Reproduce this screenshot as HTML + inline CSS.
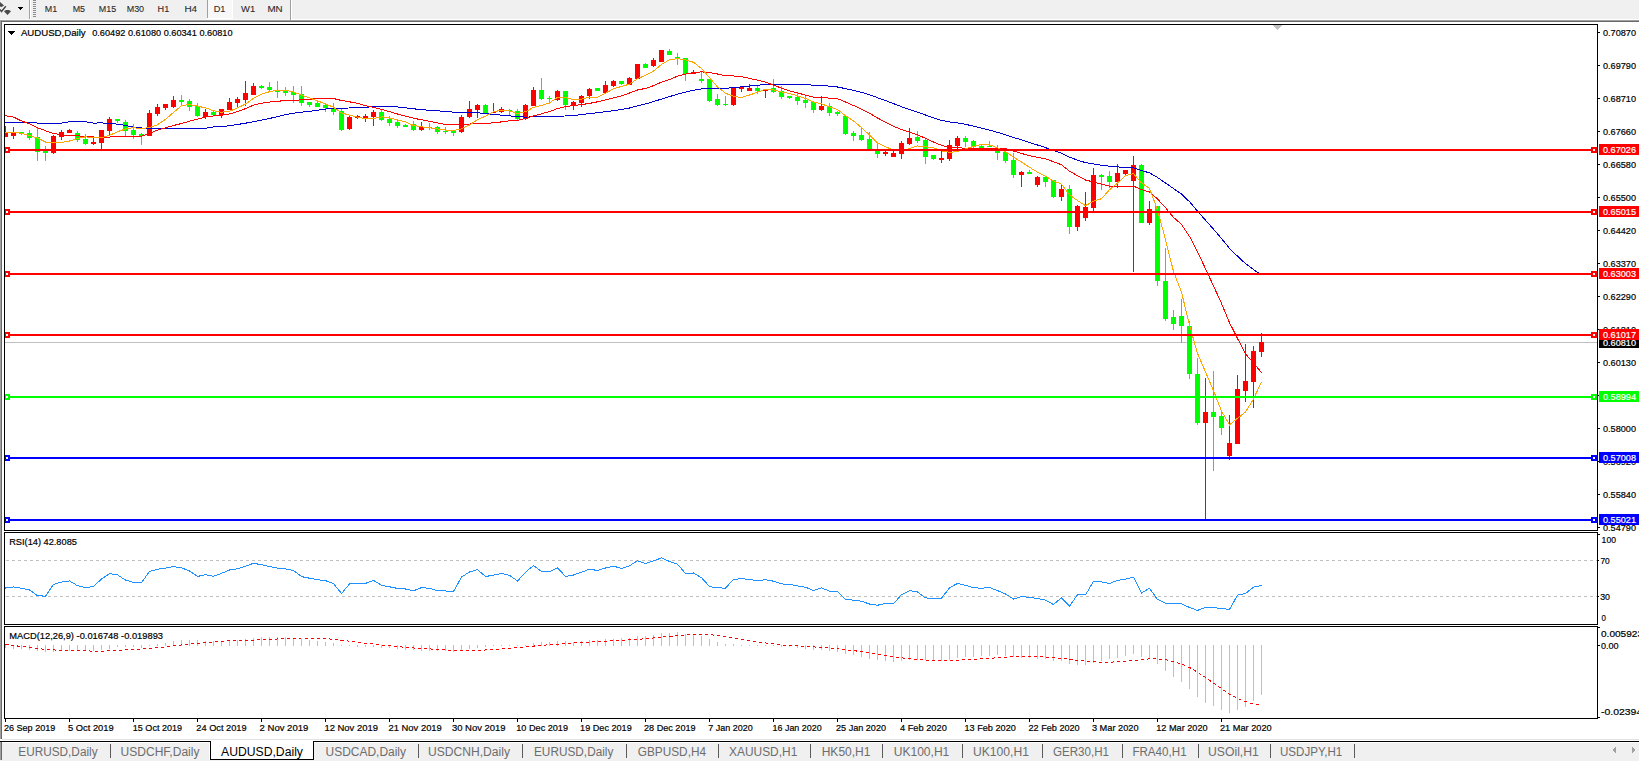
<!DOCTYPE html>
<html><head><meta charset="utf-8"><title>AUDUSD,Daily</title>
<style>html,body{margin:0;padding:0;width:1639px;height:763px;overflow:hidden;background:#fff;font-family:"Liberation Sans", sans-serif;}
svg{display:block;} text{font-family:"Liberation Sans", sans-serif;}</style></head>
<body><svg width="1639" height="763" viewBox="0 0 1639 763" shape-rendering="crispEdges" font-family='"Liberation Sans", sans-serif'>
<defs>
<clipPath id="cm"><rect x="5" y="25" width="1592" height="505"/></clipPath>
<clipPath id="cr"><rect x="5" y="533" width="1592" height="91"/></clipPath>
<clipPath id="cd"><rect x="5" y="627" width="1592" height="91"/></clipPath>
</defs>
<rect x="0" y="0" width="1639" height="763" fill="#ffffff"/>
<rect x="0" y="0" width="1639" height="19" fill="#f0f0f0"/>
<rect x="0" y="19" width="290" height="1" fill="#f8f8f8"/>
<rect x="0" y="20" width="1639" height="1" fill="#a0a0a0"/>
<rect x="0" y="21" width="1639" height="1" fill="#696969"/>
<rect x="0" y="20" width="1" height="719" fill="#a0a0a0"/>
<rect x="1" y="21" width="1" height="718" fill="#696969"/>
<path d="M0 2 L4 5.5 L1.5 7 L0 6.5 Z" fill="#4a4a4a" shape-rendering="auto"/>
<path d="M0 9.5 L1.5 11.5 L5.8 6.2" stroke="#4a4a4a" stroke-width="1.5" fill="none" shape-rendering="auto"/>
<path d="M4 11.3 L6 10 L9 10 L11 11.3 L7.5 15 Z" fill="#4a4a4a" shape-rendering="auto"/>
<path d="M18 7 L23 7 L20.5 10 Z" fill="#000"/>
<rect x="29" y="0" width="1" height="19" fill="#a0a0a0"/>
<rect x="30" y="0" width="1" height="19" fill="#ffffff"/>
<rect x="33" y="0" width="3" height="1" fill="#8c8c8c"/>
<rect x="33" y="2" width="3" height="1" fill="#8c8c8c"/>
<rect x="33" y="4" width="3" height="1" fill="#8c8c8c"/>
<rect x="33" y="6" width="3" height="1" fill="#8c8c8c"/>
<rect x="33" y="8" width="3" height="1" fill="#8c8c8c"/>
<rect x="33" y="10" width="3" height="1" fill="#8c8c8c"/>
<rect x="33" y="12" width="3" height="1" fill="#8c8c8c"/>
<rect x="33" y="14" width="3" height="1" fill="#8c8c8c"/>
<rect x="33" y="16" width="3" height="1" fill="#8c8c8c"/>
<rect x="207" y="0" width="1" height="18" fill="#a0a0a0"/>
<rect x="208" y="0" width="24" height="18" fill="#f8f8f8"/>
<rect x="232" y="0" width="1" height="19" fill="#ffffff"/>
<rect x="207" y="18" width="26" height="1" fill="#ffffff"/>
<rect x="290" y="0" width="1" height="20" fill="#a0a0a0"/>
<rect x="291" y="0" width="1" height="19" fill="#ffffff"/>
<text x="44.8" y="12" font-size="9.5" fill="#2a2a2a" text-anchor="start" textLength="12.40" lengthAdjust="spacingAndGlyphs" stroke="#2a2a2a" stroke-width="0.1">M1</text>
<text x="72.7" y="12" font-size="9.5" fill="#2a2a2a" text-anchor="start" textLength="12.40" lengthAdjust="spacingAndGlyphs" stroke="#2a2a2a" stroke-width="0.1">M5</text>
<text x="98.8" y="12" font-size="9.5" fill="#2a2a2a" text-anchor="start" textLength="17.38" lengthAdjust="spacingAndGlyphs" stroke="#2a2a2a" stroke-width="0.1">M15</text>
<text x="126.7" y="12" font-size="9.5" fill="#2a2a2a" text-anchor="start" textLength="17.38" lengthAdjust="spacingAndGlyphs" stroke="#2a2a2a" stroke-width="0.1">M30</text>
<text x="157.6" y="12" font-size="9.5" fill="#2a2a2a" text-anchor="start" textLength="11.69" lengthAdjust="spacingAndGlyphs" stroke="#2a2a2a" stroke-width="0.1">H1</text>
<text x="184.4" y="12" font-size="9.5" fill="#2a2a2a" text-anchor="start" textLength="12.69" lengthAdjust="spacingAndGlyphs" stroke="#2a2a2a" stroke-width="0.1">H4</text>
<text x="213.7" y="12" font-size="9.5" fill="#2a2a2a" text-anchor="start" textLength="11.69" lengthAdjust="spacingAndGlyphs" stroke="#2a2a2a" stroke-width="0.1">D1</text>
<text x="241.1" y="12" font-size="9.5" fill="#2a2a2a" text-anchor="start" textLength="14.10" lengthAdjust="spacingAndGlyphs" stroke="#2a2a2a" stroke-width="0.1">W1</text>
<text x="267.4" y="12" font-size="9.5" fill="#2a2a2a" text-anchor="start" textLength="15.22" lengthAdjust="spacingAndGlyphs" stroke="#2a2a2a" stroke-width="0.1">MN</text>
<rect x="4" y="24" width="1594" height="1" fill="#000"/>
<rect x="4" y="530" width="1594" height="1" fill="#000"/>
<rect x="4" y="24" width="1" height="507" fill="#000"/>
<rect x="1597" y="24" width="1" height="507" fill="#000"/>
<rect x="4" y="532" width="1594" height="1" fill="#000"/>
<rect x="4" y="624" width="1594" height="1" fill="#000"/>
<rect x="4" y="532" width="1" height="93" fill="#000"/>
<rect x="1597" y="532" width="1" height="93" fill="#000"/>
<rect x="4" y="626" width="1594" height="1" fill="#000"/>
<rect x="4" y="718" width="1594" height="1" fill="#000"/>
<rect x="4" y="626" width="1" height="93" fill="#000"/>
<rect x="1597" y="626" width="1" height="93" fill="#000"/>
<path d="M1273 25 L1282 25 L1277.5 30 Z" fill="#c0c0c0"/>
<g clip-path="url(#cm)">
<rect x="5" y="342" width="1592" height="1" fill="#c0c0c0"/>
<rect x="5" y="126" width="1" height="11" fill="#ff0000"/>
<rect x="3" y="133" width="5" height="4" fill="#ff0000"/>
<rect x="13" y="127" width="1" height="12" fill="#ff0000"/>
<rect x="11" y="132" width="5" height="4" fill="#ff0000"/>
<rect x="21" y="132" width="1" height="3" fill="#00ff00"/>
<rect x="19" y="132" width="5" height="2" fill="#00ff00"/>
<rect x="29" y="130" width="1" height="10" fill="#00ff00"/>
<rect x="27" y="133" width="5" height="5" fill="#00ff00"/>
<rect x="37" y="128" width="1" height="33" fill="#00ff00"/>
<rect x="35" y="137" width="5" height="15" fill="#00ff00"/>
<rect x="45" y="146" width="1" height="15" fill="#00ff00"/>
<rect x="43" y="151" width="5" height="2" fill="#00ff00"/>
<rect x="53" y="135" width="1" height="19" fill="#ff0000"/>
<rect x="51" y="136" width="5" height="17" fill="#ff0000"/>
<rect x="61" y="130" width="1" height="10" fill="#ff0000"/>
<rect x="59" y="132" width="5" height="5" fill="#ff0000"/>
<rect x="69" y="129" width="1" height="4" fill="#ff0000"/>
<rect x="67" y="130" width="5" height="3" fill="#ff0000"/>
<rect x="77" y="131" width="1" height="11" fill="#00ff00"/>
<rect x="75" y="133" width="5" height="7" fill="#00ff00"/>
<rect x="85" y="134" width="1" height="11" fill="#00ff00"/>
<rect x="83" y="139" width="5" height="5" fill="#00ff00"/>
<rect x="93" y="136" width="1" height="9" fill="#ff0000"/>
<rect x="91" y="142" width="5" height="2" fill="#ff0000"/>
<rect x="101" y="130" width="1" height="19" fill="#ff0000"/>
<rect x="99" y="130" width="5" height="13" fill="#ff0000"/>
<rect x="109" y="117" width="1" height="18" fill="#ff0000"/>
<rect x="107" y="119" width="5" height="12" fill="#ff0000"/>
<rect x="117" y="119" width="1" height="4" fill="#00ff00"/>
<rect x="115" y="119" width="5" height="2" fill="#00ff00"/>
<rect x="125" y="120" width="1" height="17" fill="#00ff00"/>
<rect x="123" y="122" width="5" height="9" fill="#00ff00"/>
<rect x="133" y="124" width="1" height="15" fill="#00ff00"/>
<rect x="131" y="130" width="5" height="5" fill="#00ff00"/>
<rect x="141" y="133" width="1" height="12" fill="#00ff00"/>
<rect x="139" y="134" width="5" height="2" fill="#00ff00"/>
<rect x="149" y="110" width="1" height="26" fill="#ff0000"/>
<rect x="147" y="113" width="5" height="23" fill="#ff0000"/>
<rect x="157" y="104" width="1" height="12" fill="#ff0000"/>
<rect x="155" y="107" width="5" height="7" fill="#ff0000"/>
<rect x="165" y="104" width="1" height="6" fill="#ff0000"/>
<rect x="163" y="104" width="5" height="4" fill="#ff0000"/>
<rect x="173" y="96" width="1" height="12" fill="#ff0000"/>
<rect x="171" y="100" width="5" height="7" fill="#ff0000"/>
<rect x="181" y="95" width="1" height="10" fill="#00ff00"/>
<rect x="179" y="100" width="5" height="2" fill="#00ff00"/>
<rect x="189" y="99" width="1" height="12" fill="#00ff00"/>
<rect x="187" y="101" width="5" height="6" fill="#00ff00"/>
<rect x="197" y="103" width="1" height="14" fill="#00ff00"/>
<rect x="195" y="106" width="5" height="10" fill="#00ff00"/>
<rect x="205" y="109" width="1" height="10" fill="#ff0000"/>
<rect x="203" y="112" width="5" height="5" fill="#ff0000"/>
<rect x="213" y="111" width="1" height="4" fill="#00ff00"/>
<rect x="211" y="112" width="5" height="3" fill="#00ff00"/>
<rect x="221" y="109" width="1" height="9" fill="#ff0000"/>
<rect x="219" y="109" width="5" height="6" fill="#ff0000"/>
<rect x="229" y="98" width="1" height="12" fill="#ff0000"/>
<rect x="227" y="102" width="5" height="8" fill="#ff0000"/>
<rect x="237" y="97" width="1" height="10" fill="#ff0000"/>
<rect x="235" y="99" width="5" height="4" fill="#ff0000"/>
<rect x="245" y="81" width="1" height="25" fill="#ff0000"/>
<rect x="243" y="93" width="5" height="7" fill="#ff0000"/>
<rect x="253" y="83" width="1" height="12" fill="#ff0000"/>
<rect x="251" y="86" width="5" height="9" fill="#ff0000"/>
<rect x="261" y="85" width="1" height="4" fill="#00ff00"/>
<rect x="259" y="86" width="5" height="2" fill="#00ff00"/>
<rect x="269" y="82" width="1" height="9" fill="#00ff00"/>
<rect x="267" y="87" width="5" height="3" fill="#00ff00"/>
<rect x="277" y="81" width="1" height="17" fill="#00ff00"/>
<rect x="275" y="90" width="5" height="2" fill="#00ff00"/>
<rect x="285" y="87" width="1" height="9" fill="#00ff00"/>
<rect x="283" y="91" width="5" height="2" fill="#00ff00"/>
<rect x="293" y="86" width="1" height="17" fill="#00ff00"/>
<rect x="291" y="92" width="5" height="3" fill="#00ff00"/>
<rect x="301" y="86" width="1" height="20" fill="#00ff00"/>
<rect x="299" y="94" width="5" height="9" fill="#00ff00"/>
<rect x="309" y="102" width="1" height="5" fill="#00ff00"/>
<rect x="307" y="102" width="5" height="3" fill="#00ff00"/>
<rect x="317" y="101" width="1" height="6" fill="#00ff00"/>
<rect x="315" y="103" width="5" height="4" fill="#00ff00"/>
<rect x="325" y="104" width="1" height="8" fill="#00ff00"/>
<rect x="323" y="105" width="5" height="3" fill="#00ff00"/>
<rect x="333" y="103" width="1" height="12" fill="#00ff00"/>
<rect x="331" y="108" width="5" height="4" fill="#00ff00"/>
<rect x="341" y="108" width="1" height="23" fill="#00ff00"/>
<rect x="339" y="111" width="5" height="19" fill="#00ff00"/>
<rect x="349" y="116" width="1" height="14" fill="#ff0000"/>
<rect x="347" y="117" width="5" height="12" fill="#ff0000"/>
<rect x="357" y="115" width="1" height="4" fill="#ff0000"/>
<rect x="355" y="116" width="5" height="2" fill="#ff0000"/>
<rect x="365" y="114" width="1" height="8" fill="#ff0000"/>
<rect x="363" y="116" width="5" height="2" fill="#ff0000"/>
<rect x="373" y="110" width="1" height="16" fill="#ff0000"/>
<rect x="371" y="112" width="5" height="5" fill="#ff0000"/>
<rect x="381" y="110" width="1" height="11" fill="#00ff00"/>
<rect x="379" y="112" width="5" height="8" fill="#00ff00"/>
<rect x="389" y="116" width="1" height="10" fill="#00ff00"/>
<rect x="387" y="119" width="5" height="4" fill="#00ff00"/>
<rect x="397" y="120" width="1" height="8" fill="#00ff00"/>
<rect x="395" y="122" width="5" height="4" fill="#00ff00"/>
<rect x="405" y="124" width="1" height="3" fill="#00ff00"/>
<rect x="403" y="125" width="5" height="2" fill="#00ff00"/>
<rect x="413" y="121" width="1" height="10" fill="#00ff00"/>
<rect x="411" y="124" width="5" height="6" fill="#00ff00"/>
<rect x="421" y="122" width="1" height="9" fill="#ff0000"/>
<rect x="419" y="127" width="5" height="3" fill="#ff0000"/>
<rect x="429" y="123" width="1" height="7" fill="#00ff00"/>
<rect x="427" y="127" width="5" height="1" fill="#00ff00"/>
<rect x="437" y="126" width="1" height="8" fill="#00ff00"/>
<rect x="435" y="127" width="5" height="5" fill="#00ff00"/>
<rect x="445" y="127" width="1" height="7" fill="#00ff00"/>
<rect x="443" y="131" width="5" height="1" fill="#00ff00"/>
<rect x="453" y="131" width="1" height="5" fill="#00ff00"/>
<rect x="451" y="131" width="5" height="2" fill="#00ff00"/>
<rect x="461" y="115" width="1" height="18" fill="#ff0000"/>
<rect x="459" y="117" width="5" height="15" fill="#ff0000"/>
<rect x="469" y="101" width="1" height="17" fill="#ff0000"/>
<rect x="467" y="109" width="5" height="8" fill="#ff0000"/>
<rect x="477" y="104" width="1" height="14" fill="#ff0000"/>
<rect x="475" y="105" width="5" height="5" fill="#ff0000"/>
<rect x="485" y="104" width="1" height="10" fill="#00ff00"/>
<rect x="483" y="105" width="5" height="9" fill="#00ff00"/>
<rect x="493" y="103" width="1" height="10" fill="#ff0000"/>
<rect x="491" y="112" width="5" height="1" fill="#ff0000"/>
<rect x="501" y="107" width="1" height="6" fill="#ff0000"/>
<rect x="499" y="109" width="5" height="3" fill="#ff0000"/>
<rect x="509" y="109" width="1" height="6" fill="#00ff00"/>
<rect x="507" y="110" width="5" height="1" fill="#00ff00"/>
<rect x="517" y="109" width="1" height="12" fill="#00ff00"/>
<rect x="515" y="111" width="5" height="8" fill="#00ff00"/>
<rect x="525" y="104" width="1" height="16" fill="#ff0000"/>
<rect x="523" y="105" width="5" height="14" fill="#ff0000"/>
<rect x="533" y="87" width="1" height="19" fill="#ff0000"/>
<rect x="531" y="90" width="5" height="16" fill="#ff0000"/>
<rect x="541" y="78" width="1" height="22" fill="#00ff00"/>
<rect x="539" y="90" width="5" height="9" fill="#00ff00"/>
<rect x="549" y="96" width="1" height="6" fill="#00ff00"/>
<rect x="547" y="98" width="5" height="1" fill="#00ff00"/>
<rect x="557" y="90" width="1" height="11" fill="#ff0000"/>
<rect x="555" y="91" width="5" height="9" fill="#ff0000"/>
<rect x="565" y="91" width="1" height="19" fill="#00ff00"/>
<rect x="563" y="91" width="5" height="14" fill="#00ff00"/>
<rect x="573" y="101" width="1" height="9" fill="#ff0000"/>
<rect x="571" y="102" width="5" height="3" fill="#ff0000"/>
<rect x="581" y="95" width="1" height="12" fill="#ff0000"/>
<rect x="579" y="96" width="5" height="7" fill="#ff0000"/>
<rect x="589" y="88" width="1" height="11" fill="#ff0000"/>
<rect x="587" y="89" width="5" height="7" fill="#ff0000"/>
<rect x="597" y="88" width="1" height="3" fill="#00ff00"/>
<rect x="595" y="88" width="5" height="3" fill="#00ff00"/>
<rect x="605" y="81" width="1" height="12" fill="#ff0000"/>
<rect x="603" y="85" width="5" height="8" fill="#ff0000"/>
<rect x="613" y="80" width="1" height="7" fill="#ff0000"/>
<rect x="611" y="81" width="5" height="5" fill="#ff0000"/>
<rect x="621" y="81" width="1" height="4" fill="#00ff00"/>
<rect x="619" y="81" width="5" height="3" fill="#00ff00"/>
<rect x="629" y="77" width="1" height="8" fill="#ff0000"/>
<rect x="627" y="78" width="5" height="7" fill="#ff0000"/>
<rect x="637" y="64" width="1" height="15" fill="#ff0000"/>
<rect x="635" y="64" width="5" height="15" fill="#ff0000"/>
<rect x="645" y="63" width="1" height="5" fill="#00ff00"/>
<rect x="643" y="64" width="5" height="4" fill="#00ff00"/>
<rect x="653" y="58" width="1" height="9" fill="#ff0000"/>
<rect x="651" y="60" width="5" height="6" fill="#ff0000"/>
<rect x="661" y="50" width="1" height="12" fill="#ff0000"/>
<rect x="659" y="50" width="5" height="12" fill="#ff0000"/>
<rect x="669" y="49" width="1" height="6" fill="#00ff00"/>
<rect x="667" y="51" width="5" height="4" fill="#00ff00"/>
<rect x="677" y="53" width="1" height="12" fill="#00ff00"/>
<rect x="675" y="57" width="5" height="1" fill="#00ff00"/>
<rect x="685" y="58" width="1" height="23" fill="#00ff00"/>
<rect x="683" y="58" width="5" height="16" fill="#00ff00"/>
<rect x="693" y="70" width="1" height="4" fill="#ff0000"/>
<rect x="691" y="72" width="5" height="2" fill="#ff0000"/>
<rect x="701" y="72" width="1" height="11" fill="#00ff00"/>
<rect x="699" y="79" width="5" height="2" fill="#00ff00"/>
<rect x="709" y="79" width="1" height="23" fill="#00ff00"/>
<rect x="707" y="79" width="5" height="22" fill="#00ff00"/>
<rect x="717" y="94" width="1" height="12" fill="#00ff00"/>
<rect x="715" y="99" width="5" height="6" fill="#00ff00"/>
<rect x="725" y="96" width="1" height="10" fill="#00ff00"/>
<rect x="723" y="104" width="5" height="1" fill="#00ff00"/>
<rect x="733" y="88" width="1" height="18" fill="#ff0000"/>
<rect x="731" y="88" width="5" height="17" fill="#ff0000"/>
<rect x="741" y="87" width="1" height="5" fill="#ff0000"/>
<rect x="739" y="87" width="5" height="2" fill="#ff0000"/>
<rect x="749" y="84" width="1" height="7" fill="#ff0000"/>
<rect x="747" y="88" width="5" height="3" fill="#ff0000"/>
<rect x="757" y="85" width="1" height="9" fill="#00ff00"/>
<rect x="755" y="88" width="5" height="3" fill="#00ff00"/>
<rect x="765" y="89" width="1" height="9" fill="#ff0000"/>
<rect x="763" y="89" width="5" height="2" fill="#ff0000"/>
<rect x="773" y="79" width="1" height="14" fill="#00ff00"/>
<rect x="771" y="88" width="5" height="4" fill="#00ff00"/>
<rect x="781" y="86" width="1" height="13" fill="#00ff00"/>
<rect x="779" y="91" width="5" height="6" fill="#00ff00"/>
<rect x="789" y="96" width="1" height="3" fill="#00ff00"/>
<rect x="787" y="96" width="5" height="2" fill="#00ff00"/>
<rect x="797" y="93" width="1" height="12" fill="#00ff00"/>
<rect x="795" y="97" width="5" height="4" fill="#00ff00"/>
<rect x="805" y="96" width="1" height="12" fill="#00ff00"/>
<rect x="803" y="100" width="5" height="3" fill="#00ff00"/>
<rect x="813" y="102" width="1" height="11" fill="#00ff00"/>
<rect x="811" y="102" width="5" height="8" fill="#00ff00"/>
<rect x="821" y="96" width="1" height="15" fill="#ff0000"/>
<rect x="819" y="106" width="5" height="4" fill="#ff0000"/>
<rect x="829" y="103" width="1" height="13" fill="#00ff00"/>
<rect x="827" y="106" width="5" height="7" fill="#00ff00"/>
<rect x="837" y="111" width="1" height="5" fill="#00ff00"/>
<rect x="835" y="112" width="5" height="2" fill="#00ff00"/>
<rect x="845" y="116" width="1" height="19" fill="#00ff00"/>
<rect x="843" y="116" width="5" height="18" fill="#00ff00"/>
<rect x="853" y="131" width="1" height="10" fill="#00ff00"/>
<rect x="851" y="133" width="5" height="3" fill="#00ff00"/>
<rect x="861" y="128" width="1" height="13" fill="#00ff00"/>
<rect x="859" y="135" width="5" height="5" fill="#00ff00"/>
<rect x="869" y="132" width="1" height="19" fill="#00ff00"/>
<rect x="867" y="139" width="5" height="10" fill="#00ff00"/>
<rect x="877" y="143" width="1" height="15" fill="#00ff00"/>
<rect x="875" y="151" width="5" height="3" fill="#00ff00"/>
<rect x="885" y="151" width="1" height="5" fill="#ff0000"/>
<rect x="883" y="152" width="5" height="2" fill="#ff0000"/>
<rect x="893" y="151" width="1" height="6" fill="#ff0000"/>
<rect x="891" y="153" width="5" height="4" fill="#ff0000"/>
<rect x="901" y="141" width="1" height="18" fill="#ff0000"/>
<rect x="899" y="143" width="5" height="11" fill="#ff0000"/>
<rect x="909" y="128" width="1" height="17" fill="#ff0000"/>
<rect x="907" y="138" width="5" height="6" fill="#ff0000"/>
<rect x="917" y="131" width="1" height="12" fill="#00ff00"/>
<rect x="915" y="137" width="5" height="4" fill="#00ff00"/>
<rect x="925" y="138" width="1" height="26" fill="#00ff00"/>
<rect x="923" y="140" width="5" height="17" fill="#00ff00"/>
<rect x="933" y="155" width="1" height="5" fill="#00ff00"/>
<rect x="931" y="155" width="5" height="4" fill="#00ff00"/>
<rect x="941" y="151" width="1" height="12" fill="#ff0000"/>
<rect x="939" y="158" width="5" height="2" fill="#ff0000"/>
<rect x="949" y="140" width="1" height="21" fill="#ff0000"/>
<rect x="947" y="145" width="5" height="14" fill="#ff0000"/>
<rect x="957" y="136" width="1" height="13" fill="#ff0000"/>
<rect x="955" y="138" width="5" height="8" fill="#ff0000"/>
<rect x="965" y="136" width="1" height="11" fill="#00ff00"/>
<rect x="963" y="138" width="5" height="4" fill="#00ff00"/>
<rect x="973" y="140" width="1" height="8" fill="#00ff00"/>
<rect x="971" y="141" width="5" height="6" fill="#00ff00"/>
<rect x="981" y="145" width="1" height="3" fill="#00ff00"/>
<rect x="979" y="146" width="5" height="2" fill="#00ff00"/>
<rect x="989" y="141" width="1" height="6" fill="#00ff00"/>
<rect x="987" y="146" width="5" height="1" fill="#00ff00"/>
<rect x="997" y="145" width="1" height="15" fill="#00ff00"/>
<rect x="995" y="148" width="5" height="5" fill="#00ff00"/>
<rect x="1005" y="152" width="1" height="11" fill="#00ff00"/>
<rect x="1003" y="152" width="5" height="9" fill="#00ff00"/>
<rect x="1013" y="153" width="1" height="25" fill="#00ff00"/>
<rect x="1011" y="160" width="5" height="15" fill="#00ff00"/>
<rect x="1021" y="171" width="1" height="16" fill="#ff0000"/>
<rect x="1019" y="172" width="5" height="3" fill="#ff0000"/>
<rect x="1029" y="170" width="1" height="4" fill="#00ff00"/>
<rect x="1027" y="172" width="5" height="2" fill="#00ff00"/>
<rect x="1037" y="176" width="1" height="11" fill="#ff0000"/>
<rect x="1035" y="177" width="5" height="8" fill="#ff0000"/>
<rect x="1045" y="176" width="1" height="11" fill="#00ff00"/>
<rect x="1043" y="177" width="5" height="5" fill="#00ff00"/>
<rect x="1053" y="180" width="1" height="18" fill="#00ff00"/>
<rect x="1051" y="180" width="5" height="17" fill="#00ff00"/>
<rect x="1061" y="185" width="1" height="16" fill="#ff0000"/>
<rect x="1059" y="189" width="5" height="8" fill="#ff0000"/>
<rect x="1069" y="185" width="1" height="49" fill="#00ff00"/>
<rect x="1067" y="189" width="5" height="38" fill="#00ff00"/>
<rect x="1077" y="205" width="1" height="26" fill="#ff0000"/>
<rect x="1075" y="206" width="5" height="21" fill="#ff0000"/>
<rect x="1085" y="192" width="1" height="29" fill="#ff0000"/>
<rect x="1083" y="207" width="5" height="11" fill="#ff0000"/>
<rect x="1093" y="168" width="1" height="43" fill="#ff0000"/>
<rect x="1091" y="175" width="5" height="33" fill="#ff0000"/>
<rect x="1101" y="174" width="1" height="16" fill="#00ff00"/>
<rect x="1099" y="175" width="5" height="2" fill="#00ff00"/>
<rect x="1109" y="171" width="1" height="17" fill="#00ff00"/>
<rect x="1107" y="176" width="5" height="6" fill="#00ff00"/>
<rect x="1117" y="164" width="1" height="24" fill="#ff0000"/>
<rect x="1115" y="173" width="5" height="9" fill="#ff0000"/>
<rect x="1125" y="170" width="1" height="5" fill="#ff0000"/>
<rect x="1123" y="170" width="5" height="4" fill="#ff0000"/>
<rect x="1133" y="156" width="1" height="116" fill="#ff0000"/>
<rect x="1131" y="165" width="5" height="16" fill="#ff0000"/>
<rect x="1141" y="164" width="1" height="59" fill="#00ff00"/>
<rect x="1139" y="165" width="5" height="58" fill="#00ff00"/>
<rect x="1149" y="201" width="1" height="24" fill="#ff0000"/>
<rect x="1147" y="209" width="5" height="14" fill="#ff0000"/>
<rect x="1157" y="206" width="1" height="80" fill="#00ff00"/>
<rect x="1155" y="206" width="5" height="75" fill="#00ff00"/>
<rect x="1165" y="248" width="1" height="73" fill="#00ff00"/>
<rect x="1163" y="281" width="5" height="38" fill="#00ff00"/>
<rect x="1173" y="310" width="1" height="20" fill="#00ff00"/>
<rect x="1171" y="317" width="5" height="7" fill="#00ff00"/>
<rect x="1181" y="299" width="1" height="44" fill="#00ff00"/>
<rect x="1179" y="316" width="5" height="10" fill="#00ff00"/>
<rect x="1189" y="321" width="1" height="58" fill="#00ff00"/>
<rect x="1187" y="326" width="5" height="48" fill="#00ff00"/>
<rect x="1197" y="358" width="1" height="67" fill="#00ff00"/>
<rect x="1195" y="374" width="5" height="49" fill="#00ff00"/>
<rect x="1205" y="378" width="1" height="142" fill="#ff0000"/>
<rect x="1203" y="412" width="5" height="11" fill="#ff0000"/>
<rect x="1213" y="371" width="1" height="100" fill="#00ff00"/>
<rect x="1211" y="412" width="5" height="5" fill="#00ff00"/>
<rect x="1221" y="412" width="1" height="23" fill="#00ff00"/>
<rect x="1219" y="416" width="5" height="12" fill="#00ff00"/>
<rect x="1229" y="415" width="1" height="45" fill="#ff0000"/>
<rect x="1227" y="443" width="5" height="13" fill="#ff0000"/>
<rect x="1237" y="375" width="1" height="69" fill="#ff0000"/>
<rect x="1235" y="389" width="5" height="55" fill="#ff0000"/>
<rect x="1245" y="344" width="1" height="58" fill="#ff0000"/>
<rect x="1243" y="381" width="5" height="10" fill="#ff0000"/>
<rect x="1253" y="346" width="1" height="62" fill="#ff0000"/>
<rect x="1251" y="351" width="5" height="31" fill="#ff0000"/>
<rect x="1261" y="333" width="1" height="24" fill="#ff0000"/>
<rect x="1259" y="342" width="5" height="10" fill="#ff0000"/>
<polyline points="-2.5,122.2 5.5,122.2 13.5,122.2 21.5,122.2 29.5,122.2 37.5,123.1 45.5,123.1 53.5,123.1 61.5,123.1 69.5,121.8 77.5,121.8 85.5,121.8 93.5,123.1 101.5,122.9 109.5,123.7 117.5,124.1 125.5,125.5 133.5,127.1 141.5,128.0 149.5,128.0 157.5,128.8 165.5,128.8 173.5,128.8 181.5,128.8 189.5,128.8 197.5,128.7 205.5,128.3 213.5,127.0 221.5,126.6 229.5,125.8 237.5,124.5 245.5,123.2 253.5,121.7 261.5,120.1 269.5,118.5 277.5,116.6 285.5,114.6 293.5,113.2 301.5,112.2 309.5,111.4 317.5,110.3 325.5,109.1 333.5,108.1 341.5,108.1 349.5,108.0 357.5,107.8 365.5,107.4 373.5,106.6 381.5,106.1 389.5,106.4 397.5,107.0 405.5,107.8 413.5,108.8 421.5,109.6 429.5,110.3 437.5,110.8 445.5,111.5 453.5,112.1 461.5,112.4 469.5,112.6 477.5,112.8 485.5,113.5 493.5,114.4 501.5,115.1 509.5,115.8 517.5,116.7 525.5,117.1 533.5,116.9 541.5,116.8 549.5,116.6 557.5,116.1 565.5,116.0 573.5,115.6 581.5,114.5 589.5,113.6 597.5,112.7 605.5,111.7 613.5,110.7 621.5,109.5 629.5,108.0 637.5,105.9 645.5,103.9 653.5,101.6 661.5,99.1 669.5,96.6 677.5,94.2 685.5,92.2 693.5,90.2 701.5,89.0 709.5,88.7 717.5,88.7 725.5,88.4 733.5,87.6 741.5,86.9 749.5,86.1 757.5,85.2 765.5,84.6 773.5,84.7 781.5,84.6 789.5,84.6 797.5,84.9 805.5,84.8 813.5,85.1 821.5,85.4 829.5,86.2 837.5,87.0 845.5,88.6 853.5,90.4 861.5,92.3 869.5,94.7 877.5,97.7 885.5,100.5 893.5,103.6 901.5,106.7 909.5,109.5 917.5,112.2 925.5,115.0 933.5,117.9 941.5,120.4 949.5,121.9 957.5,123.0 965.5,124.3 973.5,126.2 981.5,128.2 989.5,130.2 997.5,132.3 1005.5,134.7 1013.5,137.4 1021.5,139.9 1029.5,142.5 1037.5,145.0 1045.5,147.6 1053.5,150.6 1061.5,153.3 1069.5,157.1 1077.5,160.2 1085.5,162.6 1093.5,163.9 1101.5,165.2 1109.5,166.2 1117.5,166.9 1125.5,167.5 1133.5,167.9 1141.5,170.5 1149.5,172.9 1157.5,177.5 1165.5,183.0 1173.5,188.5 1181.5,194.1 1189.5,201.7 1197.5,211.2 1205.5,220.2 1213.5,229.2 1221.5,238.5 1229.5,248.4 1237.5,256.2 1245.5,263.6 1253.5,269.5 1261.5,275.1" fill="none" stroke="#0000cd" stroke-width="1"/>
<polyline points="-2.5,115.8 5.5,115.8 13.5,117.1 21.5,120.9 29.5,123.9 37.5,127.8 45.5,130.7 53.5,133.7 61.5,134.5 69.5,135.9 77.5,135.9 85.5,136.3 93.5,137.0 101.5,137.8 109.5,137.1 117.5,136.3 125.5,136.2 133.5,136.3 141.5,136.1 149.5,133.4 157.5,130.1 165.5,127.8 173.5,125.5 181.5,123.5 189.5,121.2 197.5,119.2 205.5,117.0 213.5,116.0 221.5,115.2 229.5,113.9 237.5,111.6 245.5,108.6 253.5,105.1 261.5,103.3 269.5,102.1 277.5,101.2 285.5,100.7 293.5,100.2 301.5,99.9 309.5,99.1 317.5,98.8 325.5,98.3 333.5,98.5 341.5,100.5 349.5,101.8 357.5,103.4 365.5,105.6 373.5,107.3 381.5,109.4 389.5,111.6 397.5,114.0 405.5,116.2 413.5,118.2 421.5,119.8 429.5,121.3 437.5,122.9 445.5,124.4 453.5,124.6 461.5,124.6 469.5,124.1 477.5,123.3 485.5,123.4 493.5,122.8 501.5,121.9 509.5,120.8 517.5,120.3 525.5,118.5 533.5,115.9 541.5,113.8 549.5,111.5 557.5,108.6 565.5,106.6 573.5,105.5 581.5,104.6 589.5,103.4 597.5,101.8 605.5,99.9 613.5,97.9 621.5,95.9 629.5,93.0 637.5,90.0 645.5,88.4 653.5,85.7 661.5,82.1 669.5,79.5 677.5,76.2 685.5,74.2 693.5,72.5 701.5,71.9 709.5,72.6 717.5,74.0 725.5,75.7 733.5,76.0 741.5,76.7 749.5,78.4 757.5,80.1 765.5,82.2 773.5,85.1 781.5,88.1 789.5,90.9 797.5,92.9 805.5,95.1 813.5,97.1 821.5,97.5 829.5,98.1 837.5,98.7 845.5,102.0 853.5,105.5 861.5,109.1 869.5,113.3 877.5,118.0 885.5,122.3 893.5,126.3 901.5,129.5 909.5,132.2 917.5,134.9 925.5,138.3 933.5,142.0 941.5,145.3 949.5,147.5 957.5,147.8 965.5,148.2 973.5,148.7 981.5,148.6 989.5,148.1 997.5,148.2 1005.5,148.7 1013.5,151.0 1021.5,153.4 1029.5,155.8 1037.5,157.2 1045.5,158.9 1053.5,161.7 1061.5,164.8 1069.5,171.2 1077.5,175.7 1085.5,180.0 1093.5,182.0 1101.5,184.1 1109.5,186.1 1117.5,187.0 1125.5,186.6 1133.5,186.1 1141.5,189.6 1149.5,191.9 1157.5,199.0 1165.5,207.7 1173.5,217.3 1181.5,224.4 1189.5,236.4 1197.5,251.8 1205.5,268.7 1213.5,285.9 1221.5,303.4 1229.5,322.7 1237.5,338.4 1245.5,353.9 1253.5,363.0 1261.5,372.6" fill="none" stroke="#ff0000" stroke-width="1"/>
<polyline points="-2.5,132.0 5.5,132.0 13.5,132.0 21.5,133.3 29.5,135.5 37.5,138.0 45.5,142.0 53.5,142.9 61.5,142.5 69.5,141.0 77.5,138.6 85.5,136.8 93.5,138.0 101.5,137.6 109.5,135.4 117.5,131.7 125.5,129.0 133.5,127.6 141.5,128.7 149.5,127.5 157.5,124.7 165.5,119.4 173.5,112.4 181.5,105.7 189.5,104.4 197.5,106.2 205.5,107.8 213.5,110.8 221.5,112.2 229.5,111.3 237.5,107.9 245.5,104.1 253.5,98.3 261.5,94.1 269.5,91.7 277.5,90.3 285.5,90.3 293.5,92.0 301.5,95.0 309.5,97.9 317.5,100.9 325.5,103.9 333.5,107.3 341.5,112.8 349.5,115.2 357.5,117.1 365.5,118.7 373.5,118.7 381.5,116.8 389.5,117.9 397.5,119.8 405.5,121.9 413.5,125.5 421.5,126.8 429.5,127.8 437.5,129.0 445.5,130.1 453.5,130.7 461.5,128.8 469.5,125.0 477.5,119.7 485.5,116.1 493.5,111.8 501.5,110.2 509.5,110.7 517.5,113.5 525.5,111.7 533.5,107.4 541.5,105.4 549.5,103.0 557.5,97.4 565.5,97.4 573.5,99.8 581.5,99.2 589.5,97.1 597.5,97.1 605.5,93.1 613.5,88.8 621.5,86.4 629.5,84.2 637.5,78.8 645.5,75.3 653.5,71.1 661.5,64.4 669.5,59.8 677.5,58.7 685.5,59.8 693.5,62.3 701.5,68.5 709.5,77.7 717.5,86.9 725.5,93.2 733.5,96.3 741.5,97.6 749.5,95.0 757.5,92.3 765.5,89.1 773.5,89.8 781.5,91.8 789.5,93.7 797.5,95.7 805.5,98.4 813.5,102.0 821.5,103.9 829.5,106.9 837.5,109.5 845.5,115.7 853.5,120.9 861.5,127.6 869.5,135.0 877.5,143.0 885.5,146.7 893.5,150.1 901.5,150.8 909.5,148.6 917.5,145.9 925.5,146.8 933.5,147.9 941.5,150.9 949.5,152.3 957.5,151.7 965.5,148.8 973.5,146.4 981.5,144.4 989.5,144.8 997.5,147.8 1005.5,151.6 1013.5,157.2 1021.5,161.9 1029.5,167.3 1037.5,172.1 1045.5,176.3 1053.5,180.8 1061.5,184.2 1069.5,194.8 1077.5,200.6 1085.5,205.6 1093.5,201.2 1101.5,198.7 1109.5,189.7 1117.5,183.1 1125.5,175.7 1133.5,173.7 1141.5,182.9 1149.5,188.3 1157.5,209.9 1165.5,239.7 1173.5,271.5 1181.5,292.2 1189.5,325.1 1197.5,353.4 1205.5,372.0 1213.5,390.7 1221.5,411.0 1229.5,424.9 1237.5,418.2 1245.5,412.1 1253.5,399.0 1261.5,381.8" fill="none" stroke="#ffa500" stroke-width="1"/>
<rect x="5" y="149" width="1592" height="2" fill="#ff0000"/>
<rect x="5" y="211" width="1592" height="2" fill="#ff0000"/>
<rect x="5" y="273" width="1592" height="2" fill="#ff0000"/>
<rect x="5" y="334" width="1592" height="2" fill="#ff0000"/>
<rect x="5" y="396" width="1592" height="2" fill="#00ff00"/>
<rect x="5" y="457" width="1592" height="2" fill="#0000ff"/>
<rect x="5" y="519" width="1592" height="2" fill="#0000ff"/>
<rect x="4" y="147" width="6" height="6" fill="#ff0000"/>
<rect x="6" y="149" width="2" height="2" fill="#ffffff"/>
<rect x="4" y="209" width="6" height="6" fill="#ff0000"/>
<rect x="6" y="211" width="2" height="2" fill="#ffffff"/>
<rect x="4" y="271" width="6" height="6" fill="#ff0000"/>
<rect x="6" y="273" width="2" height="2" fill="#ffffff"/>
<rect x="4" y="332" width="6" height="6" fill="#ff0000"/>
<rect x="6" y="334" width="2" height="2" fill="#ffffff"/>
<rect x="4" y="394" width="6" height="6" fill="#00ff00"/>
<rect x="6" y="396" width="2" height="2" fill="#ffffff"/>
<rect x="4" y="455" width="6" height="6" fill="#0000ff"/>
<rect x="6" y="457" width="2" height="2" fill="#ffffff"/>
<rect x="4" y="517" width="6" height="6" fill="#0000ff"/>
<rect x="6" y="519" width="2" height="2" fill="#ffffff"/>
<rect x="1591" y="147" width="6" height="6" fill="#ff0000"/>
<rect x="1593" y="149" width="2" height="2" fill="#ffffff"/>
<rect x="1591" y="209" width="6" height="6" fill="#ff0000"/>
<rect x="1593" y="211" width="2" height="2" fill="#ffffff"/>
<rect x="1591" y="271" width="6" height="6" fill="#ff0000"/>
<rect x="1593" y="273" width="2" height="2" fill="#ffffff"/>
<rect x="1591" y="332" width="6" height="6" fill="#ff0000"/>
<rect x="1593" y="334" width="2" height="2" fill="#ffffff"/>
<rect x="1591" y="394" width="6" height="6" fill="#00ff00"/>
<rect x="1593" y="396" width="2" height="2" fill="#ffffff"/>
<rect x="1591" y="455" width="6" height="6" fill="#0000ff"/>
<rect x="1593" y="457" width="2" height="2" fill="#ffffff"/>
<rect x="1591" y="517" width="6" height="6" fill="#0000ff"/>
<rect x="1593" y="519" width="2" height="2" fill="#ffffff"/>
</g>
<path d="M8 31 L15 31 L11.5 35 Z" fill="#000"/>
<text x="20.9" y="36" font-size="9.5" fill="#000" text-anchor="start" textLength="64.72" lengthAdjust="spacingAndGlyphs" stroke="#000" stroke-width="0.2">AUDUSD,Daily</text>
<text x="92.2" y="36" font-size="9.5" fill="#000" text-anchor="start" textLength="140.38" lengthAdjust="spacingAndGlyphs" stroke="#000" stroke-width="0.2">0.60492 0.61080 0.60341 0.60810</text>
<rect x="1598" y="32" width="2" height="1" fill="#000"/>
<text x="1603.0" y="36" font-size="9.5" fill="#000" text-anchor="start" textLength="32.99" lengthAdjust="spacingAndGlyphs" stroke="#000" stroke-width="0.2">0.70870</text>
<rect x="1598" y="65" width="2" height="1" fill="#000"/>
<text x="1603.0" y="69" font-size="9.5" fill="#000" text-anchor="start" textLength="32.99" lengthAdjust="spacingAndGlyphs" stroke="#000" stroke-width="0.2">0.69790</text>
<rect x="1598" y="98" width="2" height="1" fill="#000"/>
<text x="1603.0" y="102" font-size="9.5" fill="#000" text-anchor="start" textLength="32.99" lengthAdjust="spacingAndGlyphs" stroke="#000" stroke-width="0.2">0.68710</text>
<rect x="1598" y="131" width="2" height="1" fill="#000"/>
<text x="1603.0" y="135" font-size="9.5" fill="#000" text-anchor="start" textLength="32.99" lengthAdjust="spacingAndGlyphs" stroke="#000" stroke-width="0.2">0.67660</text>
<rect x="1598" y="164" width="2" height="1" fill="#000"/>
<text x="1603.0" y="168" font-size="9.5" fill="#000" text-anchor="start" textLength="32.99" lengthAdjust="spacingAndGlyphs" stroke="#000" stroke-width="0.2">0.66580</text>
<rect x="1598" y="197" width="2" height="1" fill="#000"/>
<text x="1603.0" y="201" font-size="9.5" fill="#000" text-anchor="start" textLength="32.99" lengthAdjust="spacingAndGlyphs" stroke="#000" stroke-width="0.2">0.65500</text>
<rect x="1598" y="230" width="2" height="1" fill="#000"/>
<text x="1603.0" y="234" font-size="9.5" fill="#000" text-anchor="start" textLength="32.99" lengthAdjust="spacingAndGlyphs" stroke="#000" stroke-width="0.2">0.64420</text>
<rect x="1598" y="263" width="2" height="1" fill="#000"/>
<text x="1603.0" y="267" font-size="9.5" fill="#000" text-anchor="start" textLength="32.99" lengthAdjust="spacingAndGlyphs" stroke="#000" stroke-width="0.2">0.63370</text>
<rect x="1598" y="296" width="2" height="1" fill="#000"/>
<text x="1603.0" y="300" font-size="9.5" fill="#000" text-anchor="start" textLength="32.99" lengthAdjust="spacingAndGlyphs" stroke="#000" stroke-width="0.2">0.62290</text>
<rect x="1598" y="329" width="2" height="1" fill="#000"/>
<text x="1603.0" y="333" font-size="9.5" fill="#000" text-anchor="start" textLength="32.99" lengthAdjust="spacingAndGlyphs" stroke="#000" stroke-width="0.2">0.61210</text>
<rect x="1598" y="362" width="2" height="1" fill="#000"/>
<text x="1603.0" y="366" font-size="9.5" fill="#000" text-anchor="start" textLength="32.99" lengthAdjust="spacingAndGlyphs" stroke="#000" stroke-width="0.2">0.60130</text>
<rect x="1598" y="395" width="2" height="1" fill="#000"/>
<text x="1603.0" y="399" font-size="9.5" fill="#000" text-anchor="start" textLength="32.99" lengthAdjust="spacingAndGlyphs" stroke="#000" stroke-width="0.2">0.59050</text>
<rect x="1598" y="428" width="2" height="1" fill="#000"/>
<text x="1603.0" y="432" font-size="9.5" fill="#000" text-anchor="start" textLength="32.99" lengthAdjust="spacingAndGlyphs" stroke="#000" stroke-width="0.2">0.58000</text>
<rect x="1598" y="461" width="2" height="1" fill="#000"/>
<text x="1603.0" y="465" font-size="9.5" fill="#000" text-anchor="start" textLength="32.99" lengthAdjust="spacingAndGlyphs" stroke="#000" stroke-width="0.2">0.56920</text>
<rect x="1598" y="494" width="2" height="1" fill="#000"/>
<text x="1603.0" y="498" font-size="9.5" fill="#000" text-anchor="start" textLength="32.99" lengthAdjust="spacingAndGlyphs" stroke="#000" stroke-width="0.2">0.55840</text>
<rect x="1598" y="527" width="2" height="1" fill="#000"/>
<text x="1603.0" y="531" font-size="9.5" fill="#000" text-anchor="start" textLength="32.99" lengthAdjust="spacingAndGlyphs" stroke="#000" stroke-width="0.2">0.54790</text>
<rect x="1599" y="337" width="40" height="11" fill="#000000"/>
<text x="1603.0" y="346" font-size="9.5" fill="#ffffff" text-anchor="start" textLength="32.99" lengthAdjust="spacingAndGlyphs" stroke="#ffffff" stroke-width="0.2">0.60810</text>
<rect x="1599" y="144" width="40" height="11" fill="#ff0000"/>
<text x="1603.0" y="153" font-size="9.5" fill="#ffffff" text-anchor="start" textLength="32.99" lengthAdjust="spacingAndGlyphs" stroke="#ffffff" stroke-width="0.2">0.67026</text>
<rect x="1599" y="206" width="40" height="11" fill="#ff0000"/>
<text x="1603.0" y="215" font-size="9.5" fill="#ffffff" text-anchor="start" textLength="32.99" lengthAdjust="spacingAndGlyphs" stroke="#ffffff" stroke-width="0.2">0.65015</text>
<rect x="1599" y="268" width="40" height="11" fill="#ff0000"/>
<text x="1603.0" y="277" font-size="9.5" fill="#ffffff" text-anchor="start" textLength="32.99" lengthAdjust="spacingAndGlyphs" stroke="#ffffff" stroke-width="0.2">0.63003</text>
<rect x="1599" y="329" width="40" height="11" fill="#ff0000"/>
<text x="1603.0" y="338" font-size="9.5" fill="#ffffff" text-anchor="start" textLength="32.99" lengthAdjust="spacingAndGlyphs" stroke="#ffffff" stroke-width="0.2">0.61017</text>
<rect x="1599" y="391" width="40" height="11" fill="#00ff00"/>
<text x="1603.0" y="400" font-size="9.5" fill="#ffffff" text-anchor="start" textLength="32.99" lengthAdjust="spacingAndGlyphs" stroke="#ffffff" stroke-width="0.2">0.58994</text>
<rect x="1599" y="452" width="40" height="11" fill="#0000ff"/>
<text x="1603.0" y="461" font-size="9.5" fill="#ffffff" text-anchor="start" textLength="32.99" lengthAdjust="spacingAndGlyphs" stroke="#ffffff" stroke-width="0.2">0.57008</text>
<rect x="1599" y="514" width="40" height="11" fill="#0000ff"/>
<text x="1603.0" y="523" font-size="9.5" fill="#ffffff" text-anchor="start" textLength="32.99" lengthAdjust="spacingAndGlyphs" stroke="#ffffff" stroke-width="0.2">0.55021</text>
<text x="9.2" y="545" font-size="9.5" fill="#000" text-anchor="start" textLength="67.71" lengthAdjust="spacingAndGlyphs" stroke="#000" stroke-width="0.2">RSI(14) 42.8085</text>
<g clip-path="url(#cr)">
<line x1="6" y1="560.5" x2="1597" y2="560.5" stroke="#c0c0c0" stroke-dasharray="3,3"/>
<line x1="6" y1="596.5" x2="1597" y2="596.5" stroke="#c0c0c0" stroke-dasharray="3,3"/>
<polyline points="-2.5,588.0 5.5,588.0 13.5,587.0 21.5,588.2 29.5,589.9 37.5,595.7 45.5,596.2 53.5,584.4 61.5,582.1 69.5,580.9 77.5,585.7 85.5,587.7 93.5,586.4 101.5,579.1 109.5,573.7 117.5,574.8 125.5,580.1 133.5,582.3 141.5,582.5 149.5,571.5 157.5,569.2 165.5,568.1 173.5,566.6 181.5,567.9 189.5,570.9 197.5,576.5 205.5,574.6 213.5,576.3 221.5,573.3 229.5,570.0 237.5,568.7 245.5,566.1 253.5,563.3 261.5,564.7 269.5,566.5 277.5,568.1 285.5,568.9 293.5,570.5 301.5,576.6 309.5,578.2 317.5,579.7 325.5,580.6 333.5,583.6 341.5,593.5 349.5,584.0 357.5,583.4 365.5,583.4 373.5,580.4 381.5,585.3 389.5,586.8 397.5,588.4 405.5,589.0 413.5,590.8 421.5,587.6 429.5,588.4 437.5,590.7 445.5,591.0 453.5,591.6 461.5,577.1 469.5,572.0 477.5,569.7 485.5,576.5 493.5,575.2 501.5,573.5 509.5,575.3 517.5,581.0 525.5,572.2 533.5,565.5 541.5,571.5 549.5,571.7 557.5,567.9 565.5,576.4 573.5,575.0 581.5,572.2 589.5,569.2 597.5,570.5 605.5,568.0 613.5,566.2 621.5,568.4 629.5,565.8 637.5,560.8 645.5,563.5 653.5,560.9 661.5,557.9 669.5,561.5 677.5,564.1 685.5,573.6 693.5,573.0 701.5,577.7 709.5,586.5 717.5,587.9 725.5,588.1 733.5,579.3 741.5,578.8 749.5,579.3 757.5,580.8 765.5,579.7 773.5,581.2 781.5,583.9 789.5,584.4 797.5,586.0 805.5,587.2 813.5,590.6 821.5,587.9 829.5,591.1 837.5,591.8 845.5,599.4 853.5,600.1 861.5,601.3 869.5,604.0 877.5,605.2 885.5,603.6 893.5,603.8 901.5,594.6 909.5,590.6 917.5,591.9 925.5,597.9 933.5,598.7 941.5,598.1 949.5,587.9 957.5,583.4 965.5,585.4 973.5,587.6 981.5,588.3 989.5,587.5 997.5,590.6 1005.5,594.0 1013.5,599.0 1021.5,596.6 1029.5,597.4 1037.5,598.4 1045.5,600.2 1053.5,604.5 1061.5,597.8 1069.5,606.2 1077.5,594.7 1085.5,594.9 1093.5,581.4 1101.5,581.9 1109.5,583.6 1117.5,580.3 1125.5,579.2 1133.5,577.2 1141.5,593.1 1149.5,588.3 1157.5,599.5 1165.5,603.1 1173.5,603.5 1181.5,603.8 1189.5,607.5 1197.5,610.4 1205.5,607.4 1213.5,607.7 1221.5,608.4 1229.5,609.4 1237.5,595.2 1245.5,593.5 1253.5,587.2 1261.5,585.4" fill="none" stroke="#1e90ff" stroke-width="1"/>
</g>
<rect x="1598" y="534" width="2" height="1" fill="#000"/>
<rect x="1598" y="560" width="1" height="1" fill="#000"/>
<rect x="1598" y="596" width="1" height="1" fill="#000"/>
<text x="1601.6" y="543" font-size="9.5" fill="#000" text-anchor="start" textLength="14.40" lengthAdjust="spacingAndGlyphs" stroke="#000" stroke-width="0.2">100</text>
<text x="1600.4" y="564" font-size="9.5" fill="#000" text-anchor="start" textLength="9.32" lengthAdjust="spacingAndGlyphs" stroke="#000" stroke-width="0.2">70</text>
<text x="1600.2" y="600" font-size="9.5" fill="#000" text-anchor="start" textLength="9.82" lengthAdjust="spacingAndGlyphs" stroke="#000" stroke-width="0.2">30</text>
<text x="1601.4" y="621" font-size="9.5" fill="#000" text-anchor="start" textLength="4.39" lengthAdjust="spacingAndGlyphs" stroke="#000" stroke-width="0.2">0</text>
<text x="9.3" y="639" font-size="9.5" fill="#000" text-anchor="start" textLength="153.70" lengthAdjust="spacingAndGlyphs" stroke="#000" stroke-width="0.2">MACD(12,26,9) -0.016748 -0.019893</text>
<g clip-path="url(#cd)">
<rect x="5" y="645" width="1" height="3" fill="#c0c0c0"/>
<rect x="13" y="645" width="1" height="4" fill="#c0c0c0"/>
<rect x="21" y="645" width="1" height="4" fill="#c0c0c0"/>
<rect x="29" y="645" width="1" height="5" fill="#c0c0c0"/>
<rect x="37" y="645" width="1" height="6" fill="#c0c0c0"/>
<rect x="45" y="645" width="1" height="7" fill="#c0c0c0"/>
<rect x="53" y="645" width="1" height="7" fill="#c0c0c0"/>
<rect x="61" y="645" width="1" height="6" fill="#c0c0c0"/>
<rect x="69" y="645" width="1" height="6" fill="#c0c0c0"/>
<rect x="77" y="645" width="1" height="6" fill="#c0c0c0"/>
<rect x="85" y="645" width="1" height="6" fill="#c0c0c0"/>
<rect x="93" y="645" width="1" height="6" fill="#c0c0c0"/>
<rect x="101" y="645" width="1" height="5" fill="#c0c0c0"/>
<rect x="109" y="645" width="1" height="4" fill="#c0c0c0"/>
<rect x="117" y="645" width="1" height="2" fill="#c0c0c0"/>
<rect x="125" y="645" width="1" height="2" fill="#c0c0c0"/>
<rect x="133" y="645" width="1" height="2" fill="#c0c0c0"/>
<rect x="141" y="645" width="1" height="3" fill="#c0c0c0"/>
<rect x="149" y="645" width="1" height="1" fill="#c0c0c0"/>
<rect x="157" y="644" width="1" height="2" fill="#c0c0c0"/>
<rect x="165" y="643" width="1" height="3" fill="#c0c0c0"/>
<rect x="173" y="641" width="1" height="5" fill="#c0c0c0"/>
<rect x="181" y="640" width="1" height="6" fill="#c0c0c0"/>
<rect x="189" y="640" width="1" height="6" fill="#c0c0c0"/>
<rect x="197" y="640" width="1" height="6" fill="#c0c0c0"/>
<rect x="205" y="641" width="1" height="5" fill="#c0c0c0"/>
<rect x="213" y="641" width="1" height="5" fill="#c0c0c0"/>
<rect x="221" y="641" width="1" height="5" fill="#c0c0c0"/>
<rect x="229" y="640" width="1" height="6" fill="#c0c0c0"/>
<rect x="237" y="640" width="1" height="6" fill="#c0c0c0"/>
<rect x="245" y="639" width="1" height="7" fill="#c0c0c0"/>
<rect x="253" y="638" width="1" height="8" fill="#c0c0c0"/>
<rect x="261" y="637" width="1" height="9" fill="#c0c0c0"/>
<rect x="269" y="637" width="1" height="9" fill="#c0c0c0"/>
<rect x="277" y="637" width="1" height="9" fill="#c0c0c0"/>
<rect x="285" y="637" width="1" height="9" fill="#c0c0c0"/>
<rect x="293" y="638" width="1" height="8" fill="#c0c0c0"/>
<rect x="301" y="639" width="1" height="7" fill="#c0c0c0"/>
<rect x="309" y="640" width="1" height="6" fill="#c0c0c0"/>
<rect x="317" y="641" width="1" height="5" fill="#c0c0c0"/>
<rect x="325" y="642" width="1" height="4" fill="#c0c0c0"/>
<rect x="333" y="643" width="1" height="3" fill="#c0c0c0"/>
<rect x="341" y="645" width="1" height="1" fill="#c0c0c0"/>
<rect x="349" y="645" width="1" height="1" fill="#c0c0c0"/>
<rect x="357" y="645" width="1" height="2" fill="#c0c0c0"/>
<rect x="365" y="645" width="1" height="2" fill="#c0c0c0"/>
<rect x="373" y="645" width="1" height="2" fill="#c0c0c0"/>
<rect x="381" y="645" width="1" height="3" fill="#c0c0c0"/>
<rect x="389" y="645" width="1" height="3" fill="#c0c0c0"/>
<rect x="397" y="645" width="1" height="4" fill="#c0c0c0"/>
<rect x="405" y="645" width="1" height="5" fill="#c0c0c0"/>
<rect x="413" y="645" width="1" height="5" fill="#c0c0c0"/>
<rect x="421" y="645" width="1" height="6" fill="#c0c0c0"/>
<rect x="429" y="645" width="1" height="6" fill="#c0c0c0"/>
<rect x="437" y="645" width="1" height="6" fill="#c0c0c0"/>
<rect x="445" y="645" width="1" height="6" fill="#c0c0c0"/>
<rect x="453" y="645" width="1" height="7" fill="#c0c0c0"/>
<rect x="461" y="645" width="1" height="6" fill="#c0c0c0"/>
<rect x="469" y="645" width="1" height="4" fill="#c0c0c0"/>
<rect x="477" y="645" width="1" height="3" fill="#c0c0c0"/>
<rect x="485" y="645" width="1" height="2" fill="#c0c0c0"/>
<rect x="493" y="645" width="1" height="1" fill="#c0c0c0"/>
<rect x="501" y="645" width="1" height="1" fill="#c0c0c0"/>
<rect x="509" y="645" width="1" height="1" fill="#c0c0c0"/>
<rect x="517" y="645" width="1" height="1" fill="#c0c0c0"/>
<rect x="525" y="645" width="1" height="1" fill="#c0c0c0"/>
<rect x="533" y="643" width="1" height="3" fill="#c0c0c0"/>
<rect x="541" y="642" width="1" height="4" fill="#c0c0c0"/>
<rect x="549" y="642" width="1" height="4" fill="#c0c0c0"/>
<rect x="557" y="641" width="1" height="5" fill="#c0c0c0"/>
<rect x="565" y="641" width="1" height="5" fill="#c0c0c0"/>
<rect x="573" y="642" width="1" height="4" fill="#c0c0c0"/>
<rect x="581" y="641" width="1" height="5" fill="#c0c0c0"/>
<rect x="589" y="640" width="1" height="6" fill="#c0c0c0"/>
<rect x="597" y="640" width="1" height="6" fill="#c0c0c0"/>
<rect x="605" y="639" width="1" height="7" fill="#c0c0c0"/>
<rect x="613" y="639" width="1" height="7" fill="#c0c0c0"/>
<rect x="621" y="638" width="1" height="8" fill="#c0c0c0"/>
<rect x="629" y="638" width="1" height="8" fill="#c0c0c0"/>
<rect x="637" y="636" width="1" height="10" fill="#c0c0c0"/>
<rect x="645" y="636" width="1" height="10" fill="#c0c0c0"/>
<rect x="653" y="635" width="1" height="11" fill="#c0c0c0"/>
<rect x="661" y="633" width="1" height="13" fill="#c0c0c0"/>
<rect x="669" y="633" width="1" height="13" fill="#c0c0c0"/>
<rect x="677" y="632" width="1" height="14" fill="#c0c0c0"/>
<rect x="685" y="634" width="1" height="12" fill="#c0c0c0"/>
<rect x="693" y="635" width="1" height="11" fill="#c0c0c0"/>
<rect x="701" y="636" width="1" height="10" fill="#c0c0c0"/>
<rect x="709" y="639" width="1" height="7" fill="#c0c0c0"/>
<rect x="717" y="642" width="1" height="4" fill="#c0c0c0"/>
<rect x="725" y="644" width="1" height="2" fill="#c0c0c0"/>
<rect x="733" y="644" width="1" height="2" fill="#c0c0c0"/>
<rect x="741" y="645" width="1" height="1" fill="#c0c0c0"/>
<rect x="749" y="645" width="1" height="1" fill="#c0c0c0"/>
<rect x="757" y="645" width="1" height="1" fill="#c0c0c0"/>
<rect x="765" y="645" width="1" height="1" fill="#c0c0c0"/>
<rect x="773" y="645" width="1" height="1" fill="#c0c0c0"/>
<rect x="781" y="645" width="1" height="2" fill="#c0c0c0"/>
<rect x="789" y="645" width="1" height="2" fill="#c0c0c0"/>
<rect x="797" y="645" width="1" height="3" fill="#c0c0c0"/>
<rect x="805" y="645" width="1" height="4" fill="#c0c0c0"/>
<rect x="813" y="645" width="1" height="5" fill="#c0c0c0"/>
<rect x="821" y="645" width="1" height="5" fill="#c0c0c0"/>
<rect x="829" y="645" width="1" height="6" fill="#c0c0c0"/>
<rect x="837" y="645" width="1" height="7" fill="#c0c0c0"/>
<rect x="845" y="645" width="1" height="9" fill="#c0c0c0"/>
<rect x="853" y="645" width="1" height="10" fill="#c0c0c0"/>
<rect x="861" y="645" width="1" height="12" fill="#c0c0c0"/>
<rect x="869" y="645" width="1" height="14" fill="#c0c0c0"/>
<rect x="877" y="645" width="1" height="15" fill="#c0c0c0"/>
<rect x="885" y="645" width="1" height="16" fill="#c0c0c0"/>
<rect x="893" y="645" width="1" height="17" fill="#c0c0c0"/>
<rect x="901" y="645" width="1" height="16" fill="#c0c0c0"/>
<rect x="909" y="645" width="1" height="15" fill="#c0c0c0"/>
<rect x="917" y="645" width="1" height="15" fill="#c0c0c0"/>
<rect x="925" y="645" width="1" height="15" fill="#c0c0c0"/>
<rect x="933" y="645" width="1" height="16" fill="#c0c0c0"/>
<rect x="941" y="645" width="1" height="16" fill="#c0c0c0"/>
<rect x="949" y="645" width="1" height="15" fill="#c0c0c0"/>
<rect x="957" y="645" width="1" height="13" fill="#c0c0c0"/>
<rect x="965" y="645" width="1" height="12" fill="#c0c0c0"/>
<rect x="973" y="645" width="1" height="12" fill="#c0c0c0"/>
<rect x="981" y="645" width="1" height="11" fill="#c0c0c0"/>
<rect x="989" y="645" width="1" height="11" fill="#c0c0c0"/>
<rect x="997" y="645" width="1" height="10" fill="#c0c0c0"/>
<rect x="1005" y="645" width="1" height="11" fill="#c0c0c0"/>
<rect x="1013" y="645" width="1" height="12" fill="#c0c0c0"/>
<rect x="1021" y="645" width="1" height="13" fill="#c0c0c0"/>
<rect x="1029" y="645" width="1" height="13" fill="#c0c0c0"/>
<rect x="1037" y="645" width="1" height="14" fill="#c0c0c0"/>
<rect x="1045" y="645" width="1" height="14" fill="#c0c0c0"/>
<rect x="1053" y="645" width="1" height="16" fill="#c0c0c0"/>
<rect x="1061" y="645" width="1" height="16" fill="#c0c0c0"/>
<rect x="1069" y="645" width="1" height="19" fill="#c0c0c0"/>
<rect x="1077" y="645" width="1" height="20" fill="#c0c0c0"/>
<rect x="1085" y="645" width="1" height="20" fill="#c0c0c0"/>
<rect x="1093" y="645" width="1" height="18" fill="#c0c0c0"/>
<rect x="1101" y="645" width="1" height="16" fill="#c0c0c0"/>
<rect x="1109" y="645" width="1" height="14" fill="#c0c0c0"/>
<rect x="1117" y="645" width="1" height="13" fill="#c0c0c0"/>
<rect x="1125" y="645" width="1" height="11" fill="#c0c0c0"/>
<rect x="1133" y="645" width="1" height="9" fill="#c0c0c0"/>
<rect x="1141" y="645" width="1" height="12" fill="#c0c0c0"/>
<rect x="1149" y="645" width="1" height="13" fill="#c0c0c0"/>
<rect x="1157" y="645" width="1" height="19" fill="#c0c0c0"/>
<rect x="1165" y="645" width="1" height="26" fill="#c0c0c0"/>
<rect x="1173" y="645" width="1" height="32" fill="#c0c0c0"/>
<rect x="1181" y="645" width="1" height="37" fill="#c0c0c0"/>
<rect x="1189" y="645" width="1" height="44" fill="#c0c0c0"/>
<rect x="1197" y="645" width="1" height="52" fill="#c0c0c0"/>
<rect x="1205" y="645" width="1" height="58" fill="#c0c0c0"/>
<rect x="1213" y="645" width="1" height="61" fill="#c0c0c0"/>
<rect x="1221" y="645" width="1" height="65" fill="#c0c0c0"/>
<rect x="1229" y="645" width="1" height="68" fill="#c0c0c0"/>
<rect x="1237" y="645" width="1" height="65" fill="#c0c0c0"/>
<rect x="1245" y="645" width="1" height="62" fill="#c0c0c0"/>
<rect x="1253" y="645" width="1" height="56" fill="#c0c0c0"/>
<rect x="1261" y="645" width="1" height="50" fill="#c0c0c0"/>
<polyline points="5.5,644.5 13.5,645.5 21.5,646.5 29.5,647.4 37.5,648.4 45.5,649.4 53.5,649.9 61.5,650.4 69.5,650.9 77.5,650.7 85.5,650.9 93.5,651.1 101.5,651.2 109.5,650.9 117.5,650.3 125.5,649.8 133.5,649.4 141.5,649.0 149.5,648.5 157.5,647.8 165.5,646.8 173.5,645.9 181.5,644.9 189.5,644.1 197.5,643.4 205.5,642.6 213.5,641.9 221.5,641.3 229.5,640.9 237.5,640.6 245.5,640.3 253.5,640.1 261.5,639.8 269.5,639.4 277.5,639.0 285.5,638.6 293.5,638.2 301.5,638.0 309.5,638.0 317.5,638.2 325.5,638.6 333.5,639.3 341.5,640.2 349.5,641.2 357.5,642.2 365.5,643.2 373.5,644.1 381.5,645.0 389.5,645.8 397.5,646.6 405.5,647.4 413.5,648.0 421.5,648.5 429.5,648.9 437.5,649.4 445.5,649.9 453.5,650.3 461.5,650.6 469.5,650.6 477.5,650.4 485.5,650.0 493.5,649.5 501.5,649.0 509.5,648.3 517.5,647.7 525.5,646.9 533.5,646.1 541.5,645.4 549.5,644.7 557.5,644.1 565.5,643.5 573.5,643.0 581.5,642.6 589.5,642.0 597.5,641.5 605.5,641.1 613.5,640.7 621.5,640.3 629.5,639.9 637.5,639.4 645.5,638.7 653.5,638.0 661.5,637.2 669.5,636.3 677.5,635.5 685.5,635.0 693.5,634.6 701.5,634.4 709.5,634.7 717.5,635.4 725.5,636.5 733.5,637.7 741.5,639.1 749.5,640.5 757.5,641.7 765.5,643.0 773.5,644.0 781.5,644.9 789.5,645.5 797.5,645.9 805.5,646.4 813.5,646.9 821.5,647.5 829.5,648.1 837.5,648.8 845.5,649.7 853.5,650.6 861.5,651.7 869.5,652.8 877.5,654.1 885.5,655.4 893.5,656.7 901.5,657.8 909.5,658.8 917.5,659.4 925.5,660.0 933.5,660.4 941.5,660.7 949.5,660.6 957.5,660.3 965.5,659.8 973.5,659.3 981.5,658.8 989.5,658.3 997.5,657.8 1005.5,657.2 1013.5,656.8 1021.5,656.6 1029.5,656.6 1037.5,656.8 1045.5,657.1 1053.5,657.7 1061.5,658.3 1069.5,659.3 1077.5,660.3 1085.5,661.2 1093.5,661.8 1101.5,662.1 1109.5,662.1 1117.5,661.9 1125.5,661.4 1133.5,660.5 1141.5,659.7 1149.5,658.9 1157.5,658.8 1165.5,659.7 1173.5,661.6 1181.5,664.1 1189.5,667.5 1197.5,672.1 1205.5,677.5 1213.5,683.0 1221.5,688.8 1229.5,694.2 1237.5,698.5 1245.5,701.7 1253.5,703.9 1261.5,704.6" fill="none" stroke="#ff0000" stroke-width="1" stroke-dasharray="3,3"/>
</g>
<rect x="1598" y="627" width="2" height="1" fill="#000"/>
<rect x="1598" y="645" width="2" height="1" fill="#000"/>
<rect x="1598" y="717" width="2" height="1" fill="#000"/>
<text x="1601.0" y="637" font-size="9.5" fill="#000" text-anchor="start" textLength="42.03" lengthAdjust="spacingAndGlyphs" stroke="#000" stroke-width="0.2">0.005923</text>
<text x="1601.0" y="649" font-size="9.5" fill="#000" text-anchor="start" textLength="17.59" lengthAdjust="spacingAndGlyphs" stroke="#000" stroke-width="0.2">0.00</text>
<text x="1601.0" y="715" font-size="9.5" fill="#000" text-anchor="start" textLength="46.99" lengthAdjust="spacingAndGlyphs" stroke="#000" stroke-width="0.2">-0.023946</text>
<rect x="5" y="719" width="1" height="3" fill="#000"/>
<text x="4.0" y="731" font-size="9.5" fill="#000" text-anchor="start" textLength="51.28" lengthAdjust="spacingAndGlyphs" stroke="#000" stroke-width="0.2">26 Sep 2019</text>
<rect x="69" y="719" width="1" height="3" fill="#000"/>
<text x="68.0" y="731" font-size="9.5" fill="#000" text-anchor="start" textLength="45.72" lengthAdjust="spacingAndGlyphs" stroke="#000" stroke-width="0.2">5 Oct 2019</text>
<rect x="133" y="719" width="1" height="3" fill="#000"/>
<text x="132.8" y="731" font-size="9.5" fill="#000" text-anchor="start" textLength="49.21" lengthAdjust="spacingAndGlyphs" stroke="#000" stroke-width="0.2">15 Oct 2019</text>
<rect x="197" y="719" width="1" height="3" fill="#000"/>
<text x="196.3" y="731" font-size="9.5" fill="#000" text-anchor="start" textLength="50.31" lengthAdjust="spacingAndGlyphs" stroke="#000" stroke-width="0.2">24 Oct 2019</text>
<rect x="261" y="719" width="1" height="3" fill="#000"/>
<text x="259.6" y="731" font-size="9.5" fill="#000" text-anchor="start" textLength="48.69" lengthAdjust="spacingAndGlyphs" stroke="#000" stroke-width="0.2">2 Nov 2019</text>
<rect x="325" y="719" width="1" height="3" fill="#000"/>
<text x="324.4" y="731" font-size="9.5" fill="#000" text-anchor="start" textLength="53.62" lengthAdjust="spacingAndGlyphs" stroke="#000" stroke-width="0.2">12 Nov 2019</text>
<rect x="389" y="719" width="1" height="3" fill="#000"/>
<text x="388.5" y="731" font-size="9.5" fill="#000" text-anchor="start" textLength="53.32" lengthAdjust="spacingAndGlyphs" stroke="#000" stroke-width="0.2">21 Nov 2019</text>
<rect x="453" y="719" width="1" height="3" fill="#000"/>
<text x="451.9" y="731" font-size="9.5" fill="#000" text-anchor="start" textLength="53.72" lengthAdjust="spacingAndGlyphs" stroke="#000" stroke-width="0.2">30 Nov 2019</text>
<rect x="517" y="719" width="1" height="3" fill="#000"/>
<text x="516.3" y="731" font-size="9.5" fill="#000" text-anchor="start" textLength="51.72" lengthAdjust="spacingAndGlyphs" stroke="#000" stroke-width="0.2">10 Dec 2019</text>
<rect x="581" y="719" width="1" height="3" fill="#000"/>
<text x="580.1" y="731" font-size="9.5" fill="#000" text-anchor="start" textLength="51.62" lengthAdjust="spacingAndGlyphs" stroke="#000" stroke-width="0.2">19 Dec 2019</text>
<rect x="645" y="719" width="1" height="3" fill="#000"/>
<text x="644.0" y="731" font-size="9.5" fill="#000" text-anchor="start" textLength="51.62" lengthAdjust="spacingAndGlyphs" stroke="#000" stroke-width="0.2">28 Dec 2019</text>
<rect x="709" y="719" width="1" height="3" fill="#000"/>
<text x="708.3" y="731" font-size="9.5" fill="#000" text-anchor="start" textLength="44.41" lengthAdjust="spacingAndGlyphs" stroke="#000" stroke-width="0.2">7 Jan 2020</text>
<rect x="773" y="719" width="1" height="3" fill="#000"/>
<text x="772.5" y="731" font-size="9.5" fill="#000" text-anchor="start" textLength="49.20" lengthAdjust="spacingAndGlyphs" stroke="#000" stroke-width="0.2">16 Jan 2020</text>
<rect x="837" y="719" width="1" height="3" fill="#000"/>
<text x="836.0" y="731" font-size="9.5" fill="#000" text-anchor="start" textLength="50.00" lengthAdjust="spacingAndGlyphs" stroke="#000" stroke-width="0.2">25 Jan 2020</text>
<rect x="901" y="719" width="1" height="3" fill="#000"/>
<text x="900.0" y="731" font-size="9.5" fill="#000" text-anchor="start" textLength="46.82" lengthAdjust="spacingAndGlyphs" stroke="#000" stroke-width="0.2">4 Feb 2020</text>
<rect x="965" y="719" width="1" height="3" fill="#000"/>
<text x="964.5" y="731" font-size="9.5" fill="#000" text-anchor="start" textLength="51.30" lengthAdjust="spacingAndGlyphs" stroke="#000" stroke-width="0.2">13 Feb 2020</text>
<rect x="1029" y="719" width="1" height="3" fill="#000"/>
<text x="1028.5" y="731" font-size="9.5" fill="#000" text-anchor="start" textLength="51.20" lengthAdjust="spacingAndGlyphs" stroke="#000" stroke-width="0.2">22 Feb 2020</text>
<rect x="1093" y="719" width="1" height="3" fill="#000"/>
<text x="1091.9" y="731" font-size="9.5" fill="#000" text-anchor="start" textLength="46.71" lengthAdjust="spacingAndGlyphs" stroke="#000" stroke-width="0.2">3 Mar 2020</text>
<rect x="1157" y="719" width="1" height="3" fill="#000"/>
<text x="1156.2" y="731" font-size="9.5" fill="#000" text-anchor="start" textLength="51.49" lengthAdjust="spacingAndGlyphs" stroke="#000" stroke-width="0.2">12 Mar 2020</text>
<rect x="1221" y="719" width="1" height="3" fill="#000"/>
<text x="1220.0" y="731" font-size="9.5" fill="#000" text-anchor="start" textLength="51.69" lengthAdjust="spacingAndGlyphs" stroke="#000" stroke-width="0.2">21 Mar 2020</text>
<rect x="2" y="739" width="1637" height="1" fill="#e3e3e3"/>
<rect x="0" y="741" width="1639" height="1" fill="#000"/>
<rect x="0" y="742" width="1639" height="19" fill="#f0f0f0"/>
<rect x="2" y="742" width="1637" height="1" fill="#ffffff"/>
<rect x="0" y="742" width="1" height="18" fill="#a0a0a0"/>
<rect x="1" y="742" width="1" height="18" fill="#696969"/>
<rect x="0" y="761" width="1639" height="2" fill="#ffffff"/>
<rect x="210" y="741" width="104" height="19" fill="#000"/>
<rect x="211" y="741" width="102" height="18" fill="#ffffff"/>
<rect x="209" y="742" width="1" height="18" fill="#ffffff"/>
<text x="18.3" y="756" font-size="12" fill="#6d6d6d" text-anchor="start" textLength="79.28" lengthAdjust="spacingAndGlyphs">EURUSD,Daily</text>
<text x="120.5" y="756" font-size="12" fill="#6d6d6d" text-anchor="start" textLength="78.98" lengthAdjust="spacingAndGlyphs">USDCHF,Daily</text>
<text x="325.6" y="756" font-size="12" fill="#6d6d6d" text-anchor="start" textLength="80.38" lengthAdjust="spacingAndGlyphs">USDCAD,Daily</text>
<text x="428.0" y="756" font-size="12" fill="#6d6d6d" text-anchor="start" textLength="81.99" lengthAdjust="spacingAndGlyphs">USDCNH,Daily</text>
<text x="534.0" y="756" font-size="12" fill="#6d6d6d" text-anchor="start" textLength="79.38" lengthAdjust="spacingAndGlyphs">EURUSD,Daily</text>
<text x="637.8" y="756" font-size="12" fill="#6d6d6d" text-anchor="start" textLength="68.20" lengthAdjust="spacingAndGlyphs">GBPUSD,H4</text>
<text x="729.0" y="756" font-size="12" fill="#6d6d6d" text-anchor="start" textLength="68.29" lengthAdjust="spacingAndGlyphs">XAUUSD,H1</text>
<text x="821.7" y="756" font-size="12" fill="#6d6d6d" text-anchor="start" textLength="48.79" lengthAdjust="spacingAndGlyphs">HK50,H1</text>
<text x="893.7" y="756" font-size="12" fill="#6d6d6d" text-anchor="start" textLength="55.62" lengthAdjust="spacingAndGlyphs">UK100,H1</text>
<text x="973.0" y="756" font-size="12" fill="#6d6d6d" text-anchor="start" textLength="56.02" lengthAdjust="spacingAndGlyphs">UK100,H1</text>
<text x="1053.0" y="756" font-size="12" fill="#6d6d6d" text-anchor="start" textLength="55.98" lengthAdjust="spacingAndGlyphs">GER30,H1</text>
<text x="1132.4" y="756" font-size="12" fill="#6d6d6d" text-anchor="start" textLength="54.22" lengthAdjust="spacingAndGlyphs">FRA40,H1</text>
<text x="1208.0" y="756" font-size="12" fill="#6d6d6d" text-anchor="start" textLength="50.81" lengthAdjust="spacingAndGlyphs">USOil,H1</text>
<text x="1280.0" y="756" font-size="12" fill="#6d6d6d" text-anchor="start" textLength="62.22" lengthAdjust="spacingAndGlyphs">USDJPY,H1</text>
<text x="221.0" y="756" font-size="12" fill="#000" text-anchor="start" textLength="81.98" lengthAdjust="spacingAndGlyphs">AUDUSD,Daily</text>
<rect x="110" y="744" width="1" height="14" fill="#5a5a5a"/>
<rect x="418" y="744" width="1" height="14" fill="#5a5a5a"/>
<rect x="522" y="744" width="1" height="14" fill="#5a5a5a"/>
<rect x="626" y="744" width="1" height="14" fill="#5a5a5a"/>
<rect x="718" y="744" width="1" height="14" fill="#5a5a5a"/>
<rect x="810" y="744" width="1" height="14" fill="#5a5a5a"/>
<rect x="882" y="744" width="1" height="14" fill="#5a5a5a"/>
<rect x="962" y="744" width="1" height="14" fill="#5a5a5a"/>
<rect x="1042" y="744" width="1" height="14" fill="#5a5a5a"/>
<rect x="1122" y="744" width="1" height="14" fill="#5a5a5a"/>
<rect x="1198" y="744" width="1" height="14" fill="#5a5a5a"/>
<rect x="1270" y="744" width="1" height="14" fill="#5a5a5a"/>
<rect x="1354" y="744" width="1" height="14" fill="#5a5a5a"/>
<path d="M1616 747 L1612 750 L1616 753 Z" fill="#a0a0a0"/>
<path d="M1632 747 L1636 750 L1632 753 Z" fill="#a0a0a0"/>
</svg></body></html>
